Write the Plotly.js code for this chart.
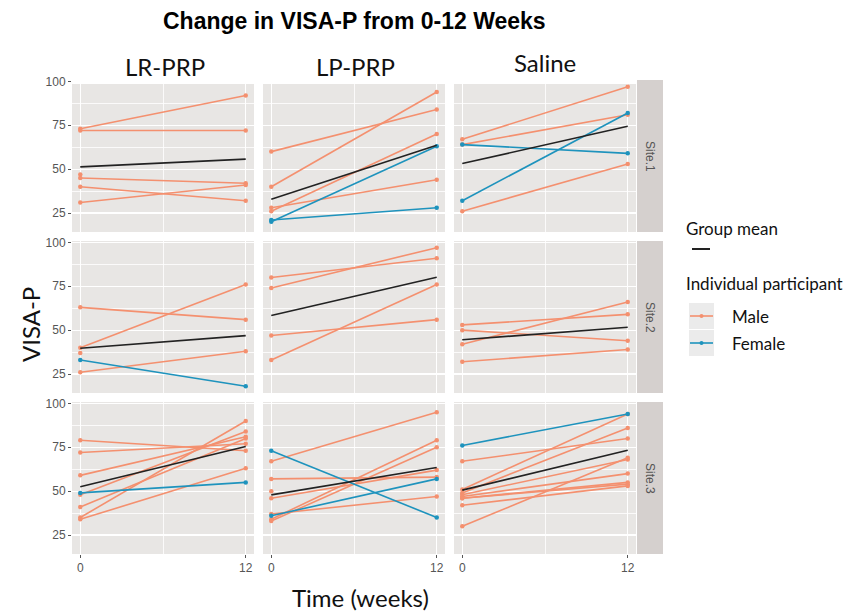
<!DOCTYPE html>
<html>
<head>
<meta charset="utf-8">
<script src="https://cdn.plot.ly/plotly-3.0.1.min.js"></script>
<style>html,body{margin:0;padding:0;background:#fff;}#chart{width:861px;height:611px;}</style>
</head>
<body>
<div id="chart"></div>
<script>
// ---------- data ----------
const weeks = [0, 12];
const treatments = ["LR-PRP", "LP-PRP", "Saline"];
const sites = ["Site.1", "Site.2", "Site.3"];
const yTicks = [25, 50, 75, 100];
const xTicks = [0, 12];

// Site 1
const s1_lr_sex = ["M","M","M","M","M","M"];
const s1_lr_w0  = [73, 72, 47, 45, 40, 31];
const s1_lr_w12 = [92, 72, null, 42, 32, 41];
const s1_lp_sex = ["M","M","M","M","F","F"];
const s1_lp_w0  = [60, 40, 28, 26, 20, 21];
const s1_lp_w12 = [84, 94, 44, 70, 63, 28];
const s1_sa_sex = ["M","M","F","F","M"];
const s1_sa_w0  = [67, 64, 64, 32, 26];
const s1_sa_w12 = [97, 81, 59, 82, 53];
// Site 2
const s2_lr_sex = ["M","M","M","F","M"];
const s2_lr_w0  = [63, 40, 37, 33, 26];
const s2_lr_w12 = [56, 76, null, 18, 38];
const s2_lp_sex = ["M","M","M","M"];
const s2_lp_w0  = [80, 74, 47, 33];
const s2_lp_w12 = [91, 97, 56, 76];
const s2_sa_sex = ["M","M","M","M"];
const s2_sa_w0  = [53, 50, 42, 32];
const s2_sa_w12 = [59, 44, 66, 39];
// Site 3
const s3_lr_sex = ["M","M","M","F","M","M","M","M"];
const s3_lr_w0  = [79, 72, 59, 49, 48, 41, 35, 34];
const s3_lr_w12 = [73, 77, 81, 55, 84, 80, 90, 63];
const s3_lp_sex = ["F","M","M","M","M","F","M","M","M"];
const s3_lp_w0  = [73, 67, 57, 50, 46, 36, 37, 34, 33];
const s3_lp_w12 = [35, 95, 58, null, 62, 57, 47, 79, 75];
const s3_sa_sex = ["F","M","M","M","M","M","M","M","M","M"];
const s3_sa_w0  = [76, 67, 51, 49, 48, 47, 46, 46, 42, 30];
const s3_sa_w12 = [94, 80, 94, 86, 68, 60, 55, 54, 53, 69];

// group means per panel (row-major: site1 LR, LP, Saline, site2 ..., site3 ...)
const mean_w0  = [51.3, 32.8, 53.2, 39.7, 58.4, 44.5, 52.5, 47.9, 50.6];
const mean_w12 = [55.7, 63.6, 74.4, 46.9, 80.1, 51.7, 75.4, 63.5, 73.3];

// ---------- build ----------
const panels = [
  [s1_lr_sex, s1_lr_w0, s1_lr_w12], [s1_lp_sex, s1_lp_w0, s1_lp_w12], [s1_sa_sex, s1_sa_w0, s1_sa_w12],
  [s2_lr_sex, s2_lr_w0, s2_lr_w12], [s2_lp_sex, s2_lp_w0, s2_lp_w12], [s2_sa_sex, s2_sa_w0, s2_sa_w12],
  [s3_lr_sex, s3_lr_w0, s3_lr_w12], [s3_lp_sex, s3_lp_w0, s3_lp_w12], [s3_sa_sex, s3_sa_w0, s3_sa_w12]
];

const MALE = "#F4906F", FEMALE = "#1E93BD", MEAN = "#222222";
const W = 861, H = 611;
const colPx = [[72, 254], [263, 445], [454, 636]];
const rowPx = [[80, 232], [241, 393], [402, 554]];
const fx = p => p / W, fy = p => 1 - p / H;

const traces = [];
const layout = {
  width: W, height: H,
  margin: {l: 0, r: 0, t: 0, b: 0},
  paper_bgcolor: "#ffffff",
  plot_bgcolor: "#E8E6E4",
  showlegend: false,
  font: {family: "Liberation Sans, Arial, sans-serif", color: "#4D4D4D"},
  shapes: [], annotations: []
};

panels.forEach((pd, p) => {
  const r = Math.floor(p / 3), c = p % 3;
  const n = p + 1;
  const xa = "x" + (n === 1 ? "" : n), ya = "y" + (n === 1 ? "" : n);
  const [sex, w0, w12] = pd;
  const order = sex.map((s, i) => i).sort((a, b) => (sex[a] === "F") - (sex[b] === "F"));
  order.forEach(i => {
    const col = sex[i] === "F" ? FEMALE : MALE;
    traces.push({
      x: weeks, y: [w0[i], w12[i]], xaxis: xa, yaxis: ya,
      type: "scatter", mode: "lines+markers",
      line: {color: col, width: 1.6},
      marker: {color: col, size: 4.5},
      hoverinfo: "skip"
    });
  });
  traces.push({
    x: weeks, y: [mean_w0[p], mean_w12[p]], xaxis: xa, yaxis: ya,
    type: "scatter", mode: "lines",
    line: {color: MEAN, width: 1.6}, hoverinfo: "skip"
  });

  const xk = "xaxis" + (n === 1 ? "" : n), yk = "yaxis" + (n === 1 ? "" : n);
  layout[xk] = {
    domain: [fx(colPx[c][0]), fx(colPx[c][1])],
    anchor: ya, range: [-0.6, 12.6],
    tickmode: "array", tickvals: xTicks, ticktext: xTicks.map(String),
    showticklabels: r === 2, ticks: r === 2 ? "outside" : "", ticklen: 3, tickwidth: 1, tickcolor: "#555",
    tickfont: {size: 12, color: "#555"},
    showgrid: true, gridcolor: "#ffffff", gridwidth: 1.3,
    minor: {tickmode: "array", tickvals: [6], showgrid: true, gridcolor: "#ffffff", gridwidth: 0.8, ticks: ""},
    zeroline: false, showline: false, fixedrange: true
  };
  layout[yk] = {
    domain: [fy(rowPx[r][1]), fy(rowPx[r][0])],
    anchor: xa, range: [14.2, 100.8],
    tickmode: "array", tickvals: yTicks, ticktext: yTicks.map(String),
    showticklabels: c === 0, ticks: c === 0 ? "outside" : "", ticklen: 3, tickwidth: 1, tickcolor: "#555",
    tickfont: {size: 12, color: "#555"},
    showgrid: true, gridcolor: "#ffffff", gridwidth: 1.3,
    minor: {tickmode: "array", tickvals: [37.5, 62.5, 87.5], showgrid: true, gridcolor: "#ffffff", gridwidth: 0.8, ticks: ""},
    zeroline: false, showline: false, fixedrange: true
  };
});

function note(x, y, text, font, extra) {
  layout.annotations.push(Object.assign({xref: "paper", yref: "paper", x: fx(x), y: fy(y), text: text,
    showarrow: false, xanchor: "center", yanchor: "middle", font: font}, extra || {}));
}

// strips on the right
sites.forEach((s, r) => {
  layout.shapes.push({type: "rect", xref: "paper", yref: "paper",
    x0: fx(637), x1: fx(663), y0: fy(rowPx[r][1]), y1: fy(rowPx[r][0]),
    fillcolor: "#D5D0CE", line: {width: 0}, layer: "below"});
  note(650, (rowPx[r][0] + rowPx[r][1]) / 2, s, {size: 12, color: "#555"}, {textangle: 90});
});

// white cover across top of first row (as in the edited figure)
layout.shapes.push({type: "rect", xref: "paper", yref: "paper",
  x0: fx(71), x1: fx(636.5), y0: fy(84), y1: 1, fillcolor: "#ffffff", line: {width: 0}, layer: "above"});

// title and headers
note(354, 21, "<b>Change in VISA-P from 0-12 Weeks</b>", {size: 23, color: "#000", family: "Liberation Sans, Arial, sans-serif"});
const HF = {size: 24, color: "#111", family: "Lato, Open Sans, sans-serif"};
const headX = [165, 355, 545], headY = [66, 67, 62];
treatments.forEach((t, c) => note(headX[c], headY[c], t, HF));
note(30, 325, "VISA-P", HF, {textangle: -90});
note(360, 597, "Time (weeks)", HF);

// legend (drawn by hand, ggplot style)
const LF = {size: 17, color: "#111", family: "Lato, Open Sans, sans-serif"};
note(684, 229, "Group mean", LF, {xanchor: "left"});
layout.shapes.push({type: "line", xref: "paper", yref: "paper", x0: fx(692), x1: fx(710), y0: fy(249), y1: fy(249), line: {color: MEAN, width: 2}});
note(684, 283, "Individual participant", LF, {xanchor: "left"});
[["Male", MALE, 316], ["Female", FEMALE, 343]].forEach(([lab, col, yy]) => {
  layout.shapes.push({type: "rect", xref: "paper", yref: "paper", x0: fx(689), x1: fx(714), y0: fy(yy + 13), y1: fy(yy - 13),
    fillcolor: "#EBEBEB", line: {width: 0}});
  layout.shapes.push({type: "line", xref: "paper", yref: "paper", x0: fx(690), x1: fx(713), y0: fy(yy), y1: fy(yy), line: {color: col, width: 1.6}});
  layout.shapes.push({type: "circle", xref: "paper", yref: "paper", x0: fx(699.5), x1: fx(703.5), y0: fy(yy + 2), y1: fy(yy - 2),
    fillcolor: col, line: {width: 0}});
  note(730, yy, lab, LF, {xanchor: "left"});
});

Plotly.newPlot("chart", traces, layout, {staticPlot: true, displayModeBar: false});
</script>
</body>
</html>
